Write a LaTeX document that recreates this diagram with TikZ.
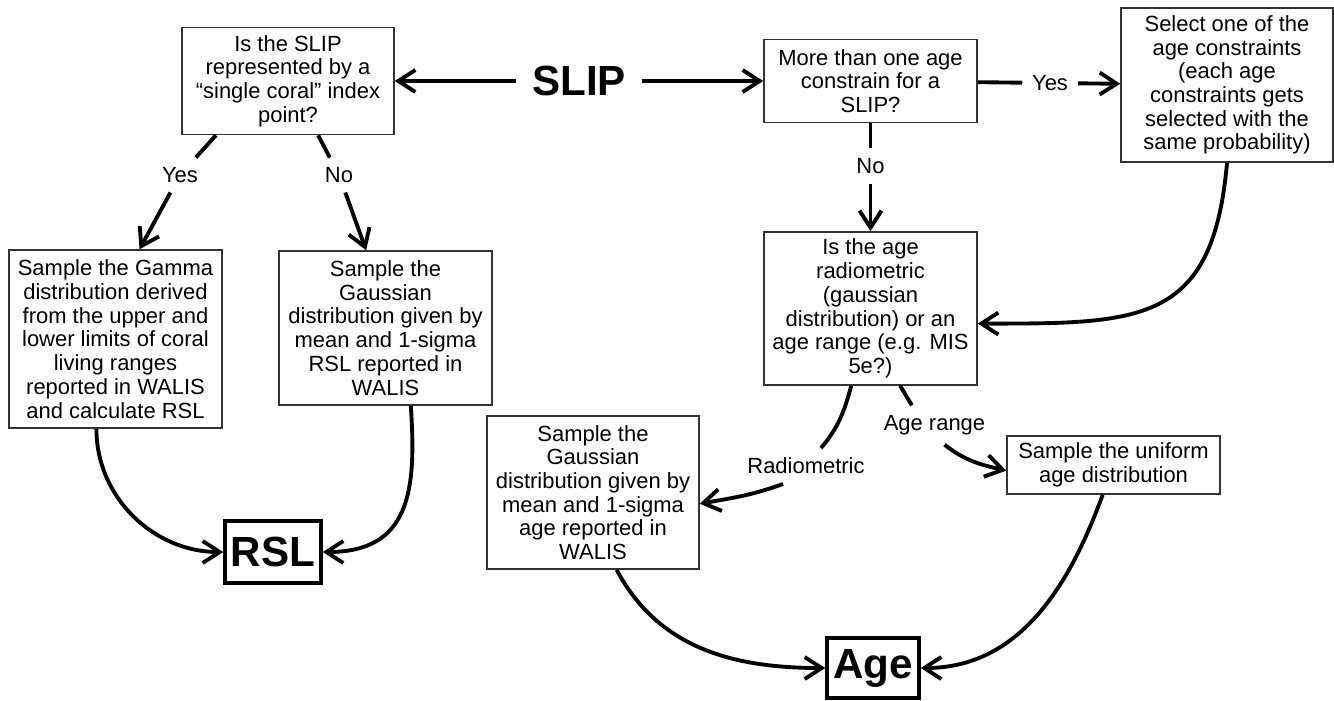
\documentclass[tikz,border=0pt]{standalone}
\usepackage{fontspec}
\setmainfont{Liberation Sans}
\usetikzlibrary{arrows.meta}

\begin{document}
\begin{tikzpicture}[x=0.02cm,y=0.02cm,
	box/.style={draw=black!80,line width=0.9pt,align=center,inner sep=0pt,font=\fontsize{12.5}{13.5}\selectfont},
	big/.style={draw,line width=2pt,inner sep=0pt,font=\fontsize{24}{28}\selectfont\bfseries},
	lab/.style={inner sep=0.19cm,font=\fontsize{12.5}{13.5}\selectfont},
	ln/.style={line width=2.2pt},
	arr/.style={line width=2.2pt,-{Straight Barb[length=3.4mm,width=4.4mm]}}]
					%\draw[help lines] (0,0) grid (1334,-700);
					\useasboundingbox (0,0) rectangle (1334,-700);

					%SLIP
					\node[inner xsep=0.32cm,inner ysep=0pt,font=\fontsize{24}{28}\selectfont\bfseries] (slip) at (579,-81) {SLIP};
					%QUESTIONS
					\node[box,minimum width=4.24cm,minimum height=2.14cm] (qcoral) at (288,-81) {Is the SLIP\\represented by a\\“single coral” index\\point?};
					\node[box,minimum width=4.26cm,minimum height=1.66cm] (qmore) at (870.5,-81) {More than one age\\constrain for a\\SLIP?};
					\node[box,minimum width=4.24cm,minimum height=3.08cm] (select) at (1227,-85) {Select one of the\\age constraints\\(each age\\constraints gets\\selected with the\\same probability)};
					\node[box,minimum width=4.26cm,minimum height=3.06cm] (qradio) at (870.5,-308.5) {Is the age\\radiometric\\(gaussian\\distribution) or an\\age range (e.g. MIS\\5e?)};
					%SAMPLING
					\node[box,minimum width=4.26cm,minimum height=3.56cm] (gamma) at (115.5,-339) {Sample the Gamma\\distribution derived\\from the upper and\\lower limits of coral\\living ranges\\reported in WALIS\\and calculate RSL};
					\node[box,minimum width=4.26cm,minimum height=3.08cm] (gaussrsl) at (385.5,-328) {Sample the\\Gaussian\\distribution given by\\mean and 1-sigma\\RSL reported in\\WALIS};
					\node[box,minimum width=4.24cm,minimum height=3.06cm] (gaussage) at (593,-492.5) {Sample the\\Gaussian\\distribution given by\\mean and 1-sigma\\age reported in\\WALIS};
					\node[box,minimum width=4.26cm,minimum height=1.16cm] (uniform) at (1113.5,-465) {Sample the uniform\\age distribution};
					%RESULTS
					\node[big,minimum width=1.92cm,minimum height=1.24cm] (rsl) at (273,-552) {RSL};
					\node[big,minimum width=1.84cm,minimum height=1.2cm] (age) at (873,-668) {Age};
					%LABELS
					\node[lab] (yes1) at (180,-175) {Yes};
					\node[lab] (no1) at (339,-175) {No};
					\node[lab] (no2) at (870.5,-166) {No};
					\node[lab] (yes2) at (1050,-83) {Yes};
					\node[lab] (radio) at (806,-466) {Radiometric};
					\node[lab] (range) at (934.5,-425) {Age range};

					%ARROWS
					\draw[arr] (slip) -- (qcoral);
					\draw[arr] (slip) -- (qmore);
					\draw[ln] (qcoral.217) -- (yes1);
					\draw[arr] (yes1) -- (gamma.75);
					\draw[ln] (qcoral.-61) -- (no1);
					\draw[arr] (no1) -- (gaussrsl.104);
					\draw[ln] (qmore) -- (no2);
					\draw[arr] (no2) -- (qradio);
					\draw[ln] (qmore) -- (yes2);
					\draw[arr] (yes2) -- (select);
					\draw[arr] (select.south) to[out=-95,in=0,looseness=1.4] (qradio.-8);
					\draw[ln] (qradio.256) to[out=-105,in=50] (radio);
					\draw[arr] (radio.218) to[out=200,in=10] (gaussage.-6);
					\draw[ln] (qradio.-69) -- (range.139);
					\draw[arr] (range.-63) to[out=-38,in=167] (uniform.183);
					%TO RSL AND AGE
					\draw[arr] (gamma.258) to[out=-90,in=180] (rsl.west);
					\draw[arr] (gaussrsl.-72) to[out=-86,in=0,looseness=1.3] (rsl.east);
					\draw[arr] (gaussage.-73) to[out=-62,in=180] (age.west);
					\draw[arr] (uniform.250) to[out=-110,in=0] (age.east);

				  \end{tikzpicture}
\end{document}
